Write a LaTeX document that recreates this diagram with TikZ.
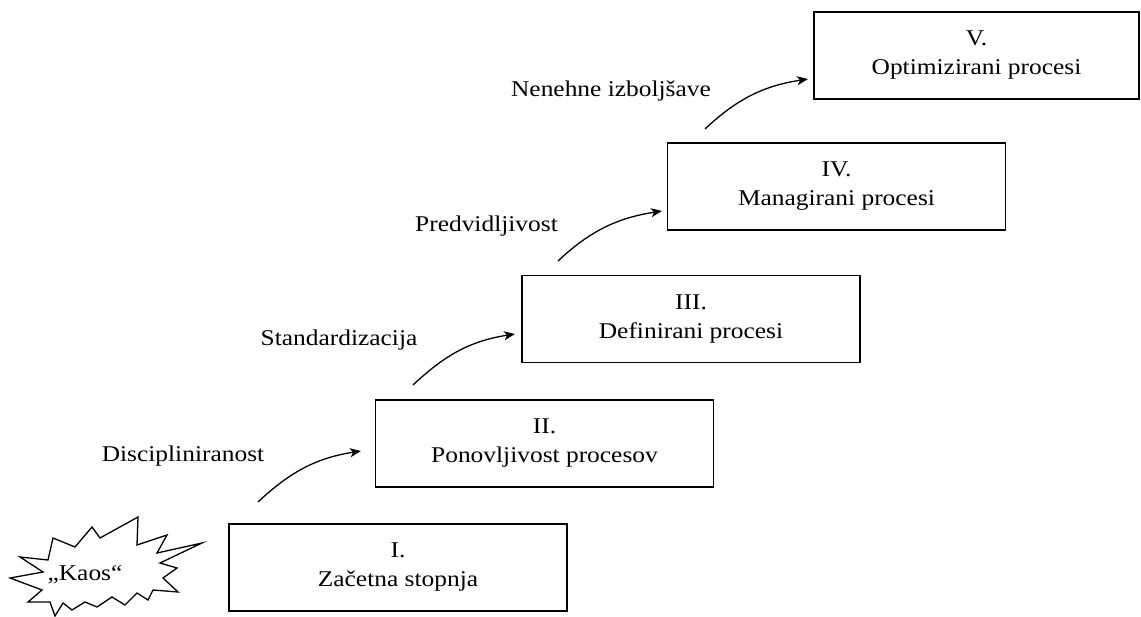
\documentclass[tikz,border=0pt]{standalone}
\usepackage{fontspec}
\setmainfont{Liberation Serif}[FakeStretch=1.13]
\usetikzlibrary{arrows.meta}
\begin{document}
\begin{tikzpicture}[x=1bp,y=-1bp,
  txt/.style={font=\fontsize{22.5bp}{29bp}\selectfont},
  stage/.style={txt,draw=black,line width=1.4bp,minimum width=338bp,minimum height=87bp,
    inner sep=0pt,align=center},
  lbl/.style={txt,anchor=base,inner sep=0pt},
  flow/.style={line width=1.3bp,-{Stealth[length=11bp,width=9bp,inset=3bp]}},
  burst/.style={draw=black,line width=1.3bp,line join=miter}
]
\useasboundingbox (0,0) rectangle (1141,617);

% maturity levels
\node[stage] (s1) at (398,567.5) {I.\\Začetna stopnja};
\node[stage] (s2) at (544.5,443.5) {II.\\Ponovljivost procesov};
\node[stage] (s3) at (691,319) {III.\\Definirani procesi};
\node[stage] (s4) at (836.5,186.5) {IV.\\Managirani procesi};
\node[stage,minimum width=325bp] (s5) at (976.5,55.5) {V.\\Optimizirani procesi};

% the chaotic starting point
\draw[burst] (10,578) -- (43,572) -- (20,557) -- (48,560) -- (53,538) -- (75,547)
  -- (92,527) -- (100,538) -- (138,517) -- (137,545) -- (167,535) -- (157,553)
  -- (202,543) -- (160,563) -- (177,568) -- (163,578) -- (178,592) -- (153,590)
  -- (148,600) -- (137,593) -- (125,605) -- (112,597) -- (97,607) -- (85,602)
  -- (72,610) -- (63,603) -- (55,616) -- (50,602) -- (28,602) -- (42,590) -- cycle;
\node[lbl] (kaos) at (85,580) {„Kaos“};

% transition labels
\node[lbl] (t1) at (183,461) {Discipliniranost};
\node[lbl] (t2) at (339,345) {Standardizacija};
\node[lbl] (t3) at (486.5,232) {Predvidljivost};
\node[lbl] (t4) at (611,97) {Nenehne izboljšave};

% arrow end points
\coordinate (a1s) at (258,502); \coordinate (a1e) at (361,451);
\coordinate (a2s) at (413,385); \coordinate (a2e) at (515,334);
\coordinate (a3s) at (558,261); \coordinate (a3e) at (662,211);
\coordinate (a4s) at (705,129); \coordinate (a4e) at (808,79);

\draw[flow] (a1s) .. controls +(32,-30) and +(-45,7) .. (a1e);
\draw[flow] (a2s) .. controls +(32,-30) and +(-45,7) .. (a2e);
\draw[flow] (a3s) .. controls +(32,-30) and +(-45,7) .. (a3e);
\draw[flow] (a4s) .. controls +(32,-30) and +(-45,7) .. (a4e);
\end{tikzpicture}
\end{document}
